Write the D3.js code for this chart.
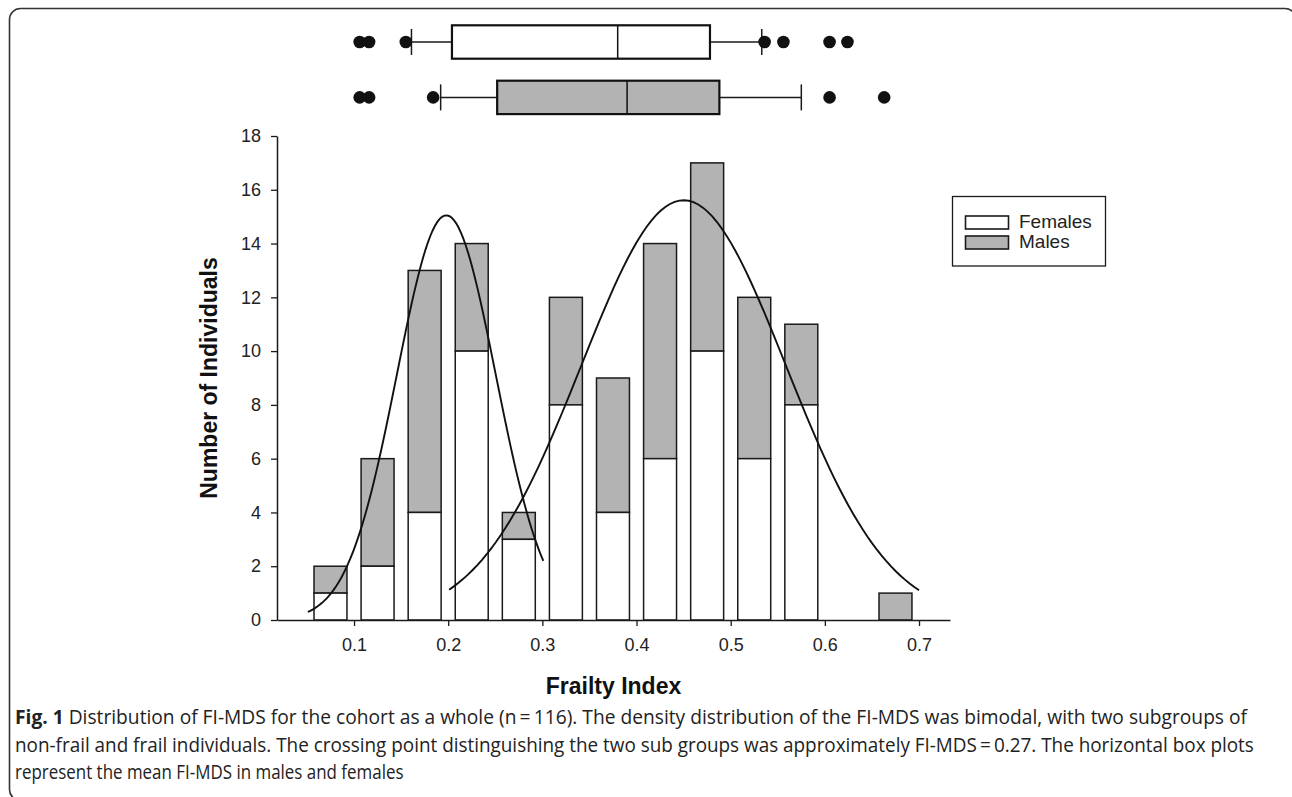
<!DOCTYPE html>
<html>
<head>
<meta charset="utf-8">
<script src="https://cdn.jsdelivr.net/npm/d3@7"></script>
<style>
  body { margin: 0; background: #fff; }
  svg { display: block; }
  .tick text { font-family: "Liberation Sans", Arial, sans-serif; fill: #222; }
</style>
</head>
<body>
<script>
var bins, females, totals, boxGroups, boxStats, boxOutliers, fits, captionLines;

// histogram bins (centre of each 0.05 wide bin)
bins = [0.075, 0.125, 0.175, 0.225, 0.275, 0.325, 0.375, 0.425, 0.475, 0.525, 0.575, 0.625, 0.675];
females = [1, 2, 4, 10, 3, 8, 4, 6, 10, 6, 8, 0, 0];
totals = [2, 6, 13, 14, 4, 12, 9, 14, 17, 12, 11, 0, 1];

// box plots: [whisker lo, Q1, median, Q3, whisker hi]
boxGroups = ['Females', 'Males'];
boxStats = [
  [0.161, 0.204, 0.380, 0.478, 0.533],
  [0.192, 0.252, 0.390, 0.488, 0.575]
];
boxOutliers = [
  [0.106, 0.116, 0.155, 0.536, 0.556, 0.605, 0.624],
  [0.106, 0.116, 0.184, 0.605, 0.663]
];

// fitted normal curves: mean, sd, peak height, drawn range
fits = [
  { mean: 0.198, sd: 0.0525, peak: 15.05, from: 0.051, to: 0.301 },
  { mean: 0.450, sd: 0.1086, peak: 15.61, from: 0.201, to: 0.700 }
];

captionLines = [
  ' Distribution of FI-MDS for the cohort as a whole (n\u2009=\u2009116). The density distribution of the FI-MDS was bimodal, with two subgroups of',
  'non-frail and frail individuals. The crossing point distinguishing the two sub groups was approximately FI-MDS\u2009=\u20090.27. The horizontal box plots',
  'represent the mean FI-MDS in males and females'
];

var W = 1292, H = 797;
var plot = { left: 277, right: 950, top: 136, bottom: 620 };

var svg = d3.select('body').append('svg')
  .attr('width', W)
  .attr('height', H);

// page frame with rounded corners (runs off the right and bottom edges)
svg.append('rect')
  .attr('x', 9.5).attr('y', 8.5)
  .attr('width', 1286.5).attr('height', 792)
  .attr('rx', 11)
  .attr('fill', 'none')
  .attr('stroke', '#333')
  .attr('stroke-width', 1.6);

var x = d3.scaleLinear().domain([0.0182, 0.7329]).range([plot.left, plot.right]);
var y = d3.scaleLinear().domain([0, 18]).range([plot.bottom, plot.top]);
var barW = x(0.035) - x(0);

var g = svg.append('g');

// stacked bars: females (white) at the bottom, males (grey) on top
var bars = g.selectAll('.bin')
    .data(bins.map(function(b, i) { return { c: b, f: females[i], t: totals[i] }; })
      .filter(function(d) { return d.t > 0; }))
  .enter()
    .append('g')
    .attr('class', 'bin');

bars.append('rect')
  .attr('x', function(d) { return x(d.c) - barW / 2; })
  .attr('y', function(d) { return y(d.t); })
  .attr('width', barW)
  .attr('height', function(d) { return y(d.f) - y(d.t); })
  .attr('fill', '#b3b3b3')
  .attr('stroke', '#1a1a1a')
  .attr('stroke-width', 1.5);

bars.filter(function(d) { return d.f > 0; })
  .append('rect')
  .attr('x', function(d) { return x(d.c) - barW / 2; })
  .attr('y', function(d) { return y(d.f); })
  .attr('width', barW)
  .attr('height', function(d) { return y(0) - y(d.f); })
  .attr('fill', '#fff')
  .attr('stroke', '#1a1a1a')
  .attr('stroke-width', 1.5);

// normal fit curves
var line = d3.line()
  .x(function(d) { return x(d[0]); })
  .y(function(d) { return y(d[1]); });

fits.forEach(function(f) {
  var pts = d3.range(0, 101).map(function(k) {
    var v = f.from + (f.to - f.from) * k / 100;
    return [v, f.peak * Math.exp(-Math.pow(v - f.mean, 2) / (2 * f.sd * f.sd))];
  });
  g.append('path')
    .attr('d', line(pts))
    .attr('fill', 'none')
    .attr('stroke', '#111')
    .attr('stroke-width', 1.9);
});

// axes
var yAxis = g.append('g')
  .attr('transform', 'translate(' + plot.left + ',0)')
  .call(d3.axisLeft(y).tickValues(d3.range(0, 19, 2)).tickSize(6).tickPadding(10).tickSizeOuter(0));

var xAxis = g.append('g')
  .attr('transform', 'translate(0,' + plot.bottom + ')')
  .call(d3.axisBottom(x).tickValues(d3.range(1, 8).map(function(v) { return v / 10; }))
    .tickFormat(d3.format('.1f')).tickSize(6).tickPadding(12).tickSizeOuter(0));

[yAxis, xAxis].forEach(function(a) {
  a.select('.domain').attr('stroke', '#1a1a1a').attr('stroke-width', 1.5);
  a.selectAll('.tick line').attr('stroke', '#1a1a1a').attr('stroke-width', 1.3);
  a.selectAll('.tick text').attr('font-size', 18);
});

g.append('text')
  .attr('transform', 'translate(217,' + (plot.top + plot.bottom) / 2 + ') rotate(-90)')
  .attr('text-anchor', 'middle')
  .attr('font-family', '"Liberation Sans", Arial, sans-serif')
  .attr('font-weight', 'bold')
  .attr('font-size', 23)
  .attr('fill', '#111')
  .text('Number of Individuals');

g.append('text')
  .attr('x', (plot.left + plot.right) / 2)
  .attr('y', 694)
  .attr('text-anchor', 'middle')
  .attr('font-family', '"Liberation Sans", Arial, sans-serif')
  .attr('font-weight', 'bold')
  .attr('font-size', 23)
  .attr('fill', '#111')
  .text('Frailty Index');

// legend
var legend = g.append('g');
legend.append('rect')
  .attr('x', 952.5).attr('y', 196.5)
  .attr('width', 153).attr('height', 69.5)
  .attr('fill', '#fff').attr('stroke', '#1a1a1a').attr('stroke-width', 1.3);

var fills = ['#fff', '#b3b3b3'];
boxGroups.forEach(function(name, i) {
  legend.append('rect')
    .attr('x', 965.5).attr('y', 216 + i * 20)
    .attr('width', 43).attr('height', 13)
    .attr('fill', fills[i]).attr('stroke', '#1a1a1a').attr('stroke-width', 1.6);
  legend.append('text')
    .attr('x', 1019).attr('y', 228 + i * 20)
    .attr('font-family', '"Liberation Sans", Arial, sans-serif')
    .attr('font-size', 19)
    .attr('fill', '#222')
    .text(name);
});

// horizontal box plots above the chart
var boxY = d3.scaleBand().domain(boxGroups).range([25.3, 114.1]).paddingInner(0.397);
boxGroups.forEach(function(name, i) {
  var s = boxStats[i];
  var top = boxY(name), h = boxY.bandwidth(), cy = top + h / 2;
  var bg = g.append('g');
  bg.append('line')
    .attr('x1', x(s[0])).attr('x2', x(s[1])).attr('y1', cy).attr('y2', cy)
    .attr('stroke', '#1a1a1a').attr('stroke-width', 1.5);
  bg.append('line')
    .attr('x1', x(s[3])).attr('x2', x(s[4])).attr('y1', cy).attr('y2', cy)
    .attr('stroke', '#1a1a1a').attr('stroke-width', 1.5);
  [s[0], s[4]].forEach(function(v) {
    bg.append('line')
      .attr('x1', x(v)).attr('x2', x(v)).attr('y1', cy - 13).attr('y2', cy + 13)
      .attr('stroke', '#1a1a1a').attr('stroke-width', 1.5);
  });
  bg.append('rect')
    .attr('x', x(s[1])).attr('y', top)
    .attr('width', x(s[3]) - x(s[1])).attr('height', h)
    .attr('fill', fills[i]).attr('stroke', '#111').attr('stroke-width', 2.2);
  bg.append('line')
    .attr('x1', x(s[2])).attr('x2', x(s[2])).attr('y1', top).attr('y2', top + h)
    .attr('stroke', '#111').attr('stroke-width', 1.5);
  bg.selectAll('circle')
      .data(boxOutliers[i])
    .enter()
      .append('circle')
      .attr('cx', function(d) { return x(d); })
      .attr('cy', cy)
      .attr('r', 6.3)
      .attr('fill', '#111');
});

// caption: each line squeezed horizontally to the width it has in the figure
var cap = svg.append('g')
  .attr('font-family', '"Open Sans", "Noto Sans", sans-serif')
  .attr('font-size', 20)
  .attr('fill', '#222');

var capY = [724, 752, 779];
var capWidths = [1233, 1240, 389];

captionLines.forEach(function(txt, i) {
  var row = cap.append('g');
  var t = row.append('text').attr('x', 0).attr('y', capY[i]);
  if (i === 0) {
    t.append('tspan').attr('font-weight', 'bold').text('Fig. 1');
    t.append('tspan').text(txt);
  } else {
    t.text(txt);
  }
  var k = capWidths[i] / t.node().getComputedTextLength();
  row.attr('transform', 'translate(15,0) scale(' + k + ',1)');
});
</script>
</body>
</html>
